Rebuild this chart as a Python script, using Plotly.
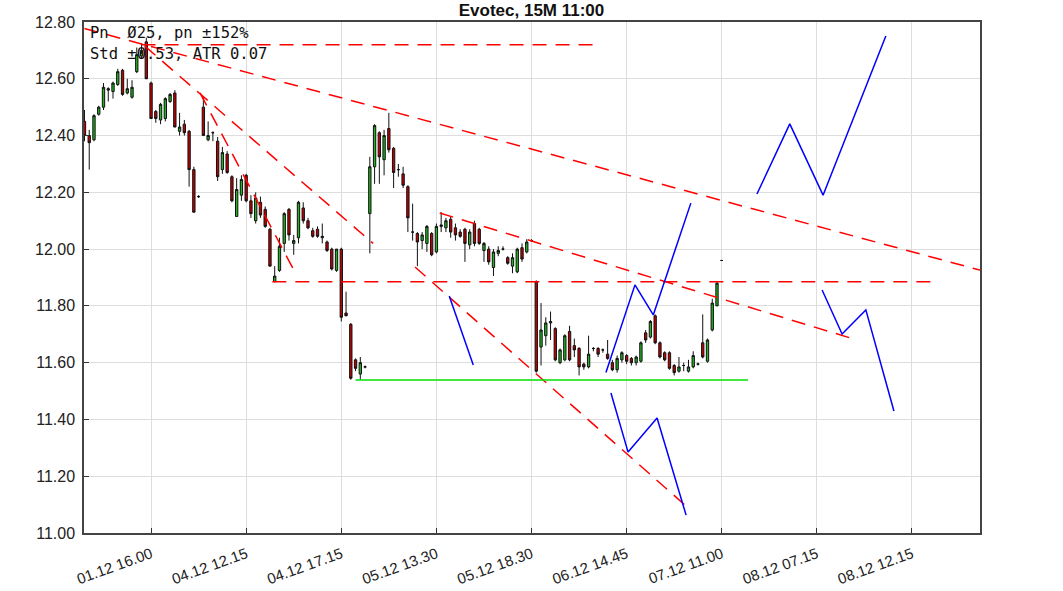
import plotly.graph_objects as go

# ---------------- data ----------------
opens = [12.45, 12.40, 12.385, 12.475, 12.50, 12.56, 12.555, 12.58, 12.63, 12.55,
         12.535, 12.625, 12.68, 12.73, 12.585, 12.485, 12.455, 12.46, 12.52, 12.55,
         12.415, 12.44, 12.415, 12.28, 12.185, 12.50, 12.385, 12.41, 12.38, 12.28,
         12.335, 12.255, 12.115, 12.19, 12.26, 12.17, 12.10, 12.165, 12.14, 12.07,
         11.885, 11.925, 12.02, 12.14, 12.02, 12.04, 12.145, 12.10, 12.065, 12.07,
         12.04, 12.025, 12.00, 11.925, 12.00, 11.775, 11.735, 11.61, 11.56, 11.585,
         12.125, 12.29, 12.41, 12.315, 12.425, 12.355, 12.28, 12.265, 12.22, 12.06,
         12.055, 12.03, 12.02, 12.055, 11.99, 12.08, 12.075, 12.105, 12.075, 12.06,
         12.07, 12.015, 12.09, 12.07, 11.995, 12.00, 11.935, 11.985, 12.00, 11.97,
         11.94, 11.92, 12.005, 11.99, 12.03, 11.885, 11.655, 11.695, 11.74, 11.72,
         11.60, 11.61, 11.71, 11.66, 11.65, 11.595, 11.585, 11.65, 11.65, 11.645,
         11.63, 11.60, 11.575, 11.61, 11.625, 11.615, 11.60, 11.605, 11.705, 11.69,
         11.765, 11.67, 11.635, 11.635, 11.59, 11.57, 11.59, 11.57, 11.585, 11.595,
         11.67, 11.605, 11.715, 11.80, 11.96]
highs = [12.49, 12.42, 12.475, 12.505, 12.585, 12.57, 12.59, 12.635, 12.635, 12.60,
         12.595, 12.71, 12.725, 12.745, 12.59, 12.49, 12.515, 12.535, 12.55, 12.56,
         12.48, 12.455, 12.42, 12.29, 12.19, 12.535, 12.45, 12.415, 12.395, 12.36,
         12.345, 12.26, 12.25, 12.26, 12.265, 12.19, 12.20, 12.185, 12.15, 12.075,
         11.94, 12.04, 12.13, 12.145, 12.05, 12.17, 12.165, 12.11, 12.075, 12.08,
         12.09, 12.03, 12.005, 12.00, 12.005, 11.85, 11.74, 11.615, 11.62, 11.59,
         12.325, 12.44, 12.415, 12.42, 12.48, 12.36, 12.30, 12.29, 12.225, 12.16,
         12.06, 12.06, 12.085, 12.06, 12.09, 12.13, 12.11, 12.115, 12.09, 12.07,
         12.075, 12.07, 12.10, 12.075, 12.025, 12.01, 12.00, 12.01, 12.01, 11.975,
         11.985, 12.005, 12.02, 12.035, 12.035, 11.89, 11.81, 11.76, 11.78, 11.725,
         11.65, 11.70, 11.73, 11.685, 11.655, 11.60, 11.695, 11.655, 11.655, 11.65,
         11.68, 11.61, 11.625, 11.64, 11.63, 11.62, 11.625, 11.675, 11.715, 11.75,
         11.77, 11.675, 11.64, 11.64, 11.595, 11.62, 11.60, 11.61, 11.64, 11.60,
         11.77, 11.685, 11.825, 11.885, 11.96]
lows = [12.38, 12.28, 12.38, 12.47, 12.49, 12.52, 12.53, 12.575, 12.54, 12.545,
        12.53, 12.62, 12.67, 12.60, 12.46, 12.445, 12.44, 12.45, 12.515, 12.43,
        12.40, 12.40, 12.22, 12.13, 12.18, 12.40, 12.38, 12.38, 12.24, 12.265,
        12.265, 12.165, 12.115, 12.17, 12.165, 12.11, 12.09, 12.11, 12.075, 11.94,
        11.885, 11.92, 11.99, 12.03, 11.98, 12.02, 12.09, 12.07, 12.04, 12.04,
        12.02, 11.99, 11.925, 11.92, 11.745, 11.765, 11.54, 11.57, 11.54, 11.58,
        11.985, 12.23, 12.23, 12.26, 12.34, 12.215, 12.255, 12.215, 12.06, 12.03,
        11.94, 12.00, 11.99, 11.975, 11.985, 12.06, 12.06, 12.04, 12.03, 12.04,
        11.955, 12.00, 12.01, 12.015, 11.955, 11.945, 11.905, 11.975, 11.995, 11.945,
        11.915, 11.915, 11.955, 11.985, 12.025, 11.565, 11.59, 11.66, 11.68, 11.605,
        11.595, 11.605, 11.605, 11.62, 11.555, 11.575, 11.58, 11.64, 11.62, 11.635,
        11.61, 11.57, 11.565, 11.60, 11.595, 11.59, 11.59, 11.60, 11.67, 11.685,
        11.665, 11.615, 11.605, 11.575, 11.555, 11.565, 11.57, 11.565, 11.58, 11.59,
        11.615, 11.60, 11.71, 11.80, 11.96]
closes = [12.40, 12.375, 12.47, 12.50, 12.57, 12.565, 12.585, 12.625, 12.545, 12.565,
          12.57, 12.685, 12.70, 12.60, 12.46, 12.46, 12.51, 12.53, 12.545, 12.43,
          12.43, 12.41, 12.28, 12.13, 12.185, 12.40, 12.40, 12.41, 12.255, 12.34,
          12.27, 12.17, 12.21, 12.245, 12.17, 12.125, 12.18, 12.12, 12.08, 11.94,
          11.905, 12.01, 12.125, 12.05, 12.03, 12.165, 12.10, 12.075, 12.045, 12.045,
          12.045, 11.995, 11.93, 12.00, 11.76, 11.765, 11.545, 11.58, 11.60, 11.585,
          12.29, 12.435, 12.325, 12.40, 12.35, 12.27, 12.28, 12.225, 12.11, 12.06,
          12.025, 12.05, 12.08, 11.98, 12.08, 12.085, 12.10, 12.06, 12.05, 12.045,
          12.02, 12.06, 12.02, 12.02, 12.02, 11.955, 11.99, 11.995, 12.00, 11.95,
          11.97, 12.00, 11.965, 12.025, 12.03, 11.57, 11.715, 11.74, 11.745, 11.61,
          11.645, 11.695, 11.61, 11.645, 11.585, 11.585, 11.63, 11.65, 11.63, 11.645,
          11.615, 11.575, 11.615, 11.635, 11.605, 11.60, 11.62, 11.67, 11.68, 11.745,
          11.67, 11.62, 11.61, 11.58, 11.565, 11.585, 11.59, 11.585, 11.625, 11.595,
          11.62, 11.68, 11.81, 11.88, 11.96]
bars = list(range(len(closes)))

tick_bars = [14, 34, 54, 74, 94, 114, 134, 154, 174]
tick_labels = ["01.12 16.00", "04.12 12.15", "04.12 17.15", "05.12 13.30", "05.12 18.30",
               "06.12 14.45", "07.12 11.00", "08.12 07.15", "08.12 12.15"]

# red dashed trend lines: (bar pairs, price pairs)
red_lines_x = [[12, 108], [0, 188.3], [12.7, 60.7], [24.3, 43.8], [69.5, 126.7],
               [74.7, 162.4], [39.5, 179.2]]
red_lines_y = [[12.72, 12.72], [12.777, 11.926], [12.715, 12.02], [12.55, 11.933],
               [11.937, 11.092], [12.127, 11.68], [11.885, 11.885]]

green_line_x = [57, 139.5]
green_line_y = [11.539, 11.539]

# blue projection paths
blue_x = [[76.7, 81.75],
          [109.65, 115.75, 119.6, 127.5],
          [110.7, 114.3, 120.4, 126.5],
          [141.4, 148.3, 155.3, 168.5],
          [155.1, 159.3, 164.3, 170.2]]
blue_y = [[11.835, 11.592],
          [11.565, 11.874, 11.768, 12.162],
          [11.493, 11.285, 11.405, 11.063],
          [12.194, 12.441, 12.19, 12.751],
          [11.856, 11.701, 11.786, 11.43]]

info_lines = ["Pn  Ø25, pn ±152%", "Std ±0.53, ATR 0.07"]
title_text = "Evotec, 15M 11:00"

# ---------------- figure ----------------
fig = go.Figure()
fig.add_trace(go.Candlestick(
    x=bars, open=opens, high=highs, low=lows, close=closes,
    increasing=dict(fillcolor="#1fb51f", line=dict(color="#111111", width=1)),
    decreasing=dict(fillcolor="#c00000", line=dict(color="#111111", width=1)),
    whiskerwidth=0, showlegend=False, hoverinfo="skip"))

for xs, ys in zip(red_lines_x, red_lines_y):
    fig.add_trace(go.Scatter(x=xs, y=ys, mode="lines", showlegend=False, hoverinfo="skip",
                             line=dict(color="#ff0000", width=1.5, dash="14px,9px")))

fig.add_trace(go.Scatter(x=green_line_x, y=green_line_y, mode="lines", showlegend=False,
                         hoverinfo="skip", line=dict(color="#00e000", width=1.5)))

for xs, ys in zip(blue_x, blue_y):
    fig.add_trace(go.Scatter(x=xs, y=ys, mode="lines", showlegend=False, hoverinfo="skip",
                             line=dict(color="#0000ff", width=1.5)))

for k, t in enumerate(info_lines):
    fig.add_annotation(text=t, xref="paper", yref="paper", x=0.005, y=1 - 0.022 - k * 0.041,
                       xanchor="left", yanchor="middle", showarrow=False,
                       font=dict(family="DejaVu Sans Mono", size=15.5, color="#111111"))

fig.update_layout(
    width=1063, height=591,
    margin=dict(l=84, r=83, t=22, b=58),
    paper_bgcolor="white", plot_bgcolor="white",
    title=dict(text="<b>" + title_text + "</b>", x=0.5, xanchor="center",
               y=1 - 10 / 591, yanchor="middle",
               font=dict(family="Liberation Sans, Arial", size=17, color="#111111")),
    xaxis=dict(range=[-0.1, 188.3], tickvals=tick_bars, ticktext=tick_labels,
               tickangle=-20, ticks="inside", ticklen=5, tickcolor="#333",
               showgrid=True, gridcolor="#dddddd", gridwidth=1,
               showline=True, linecolor="#444", linewidth=1.5, mirror=True,
               rangeslider=dict(visible=False), zeroline=False, ticklabelstandoff=5,
               automargin=False,
               tickfont=dict(family="Liberation Sans, Arial", size=15, color="#222")),
    yaxis=dict(range=[11.0, 12.8], dtick=0.2, tick0=11.0, tickformat=".2f",
               ticks="inside", ticklen=5, tickcolor="#333",
               showgrid=True, gridcolor="#dddddd", gridwidth=1,
               showline=True, linecolor="#444", linewidth=1.5, mirror=True,
               zeroline=False, ticklabelstandoff=4, automargin=False,
               tickfont=dict(family="Liberation Sans, Arial", size=16, color="#222")),
)

fig.write_html("out.html", config={"displayModeBar": False},
               post_script="document.body.style.margin='0px';")
